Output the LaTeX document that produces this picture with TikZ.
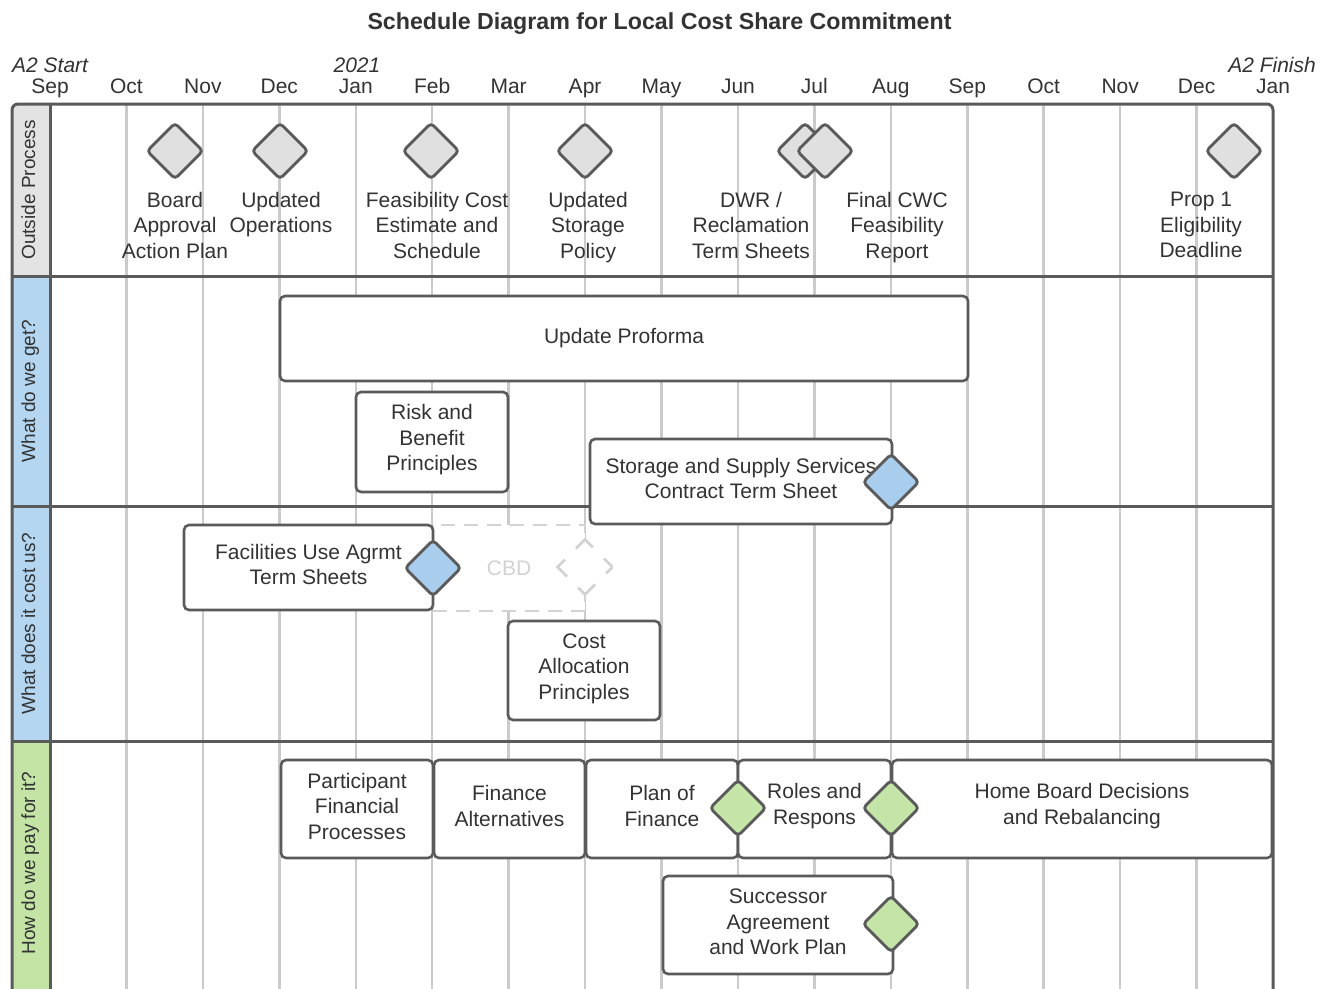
\documentclass[tikz,border=0pt]{standalone}
\usepackage{fontspec}
\setmainfont{Liberation Sans}
\usetikzlibrary{shapes.geometric}
\definecolor{edge}{HTML}{5A5A5A}
\definecolor{txt}{HTML}{333333}
\definecolor{gridc}{HTML}{CBCBCB}
\definecolor{greyfill}{HTML}{E3E3E3}
\definecolor{bluelane}{HTML}{B4D6F1}
\definecolor{greenlane}{HTML}{C4E4A6}
\definecolor{bluedia}{HTML}{A9CDEC}
\definecolor{greendia}{HTML}{C5E5A8}
\definecolor{greydia}{HTML}{E0E0E0}
\definecolor{ghost}{HTML}{D2D2D2}
\tikzset{
  lbl/.style={font=\fontsize{21}{25.5}\selectfont, text=txt, align=center, inner sep=0pt},
  boxtext/.style={lbl, yshift=2pt},
  hdr/.style={font=\fontsize{21}{25}\selectfont, text=txt, inner sep=0pt},
  hdrit/.style={font=\fontsize{21}{25}\selectfont\itshape, text=txt, inner sep=0pt},
  lanelbl/.style={font=\fontsize{19}{23}\selectfont, text=txt, inner sep=0pt, rotate=90, anchor=base},
  box/.style={draw=edge, line width=2.6pt, rounded corners=5pt, fill=white, inner sep=0pt},
  ghostbox/.style={lbl, draw=ghost, line width=2.6pt, dash pattern=on 14pt off 9pt, fill=white, text=ghost},
  milestone/.style={diamond, draw=edge, line width=2.8pt, rounded corners=4pt, minimum width=57pt, minimum height=57pt, inner sep=0pt},
  ghostdia/.style={diamond, draw=ghost, line width=2.6pt, dash pattern=on 24pt off 15.6pt, dash phase=12pt, minimum width=56pt, minimum height=56pt, inner sep=0pt, fill=white},
  frame/.style={draw=edge, line width=3pt},
  gridline/.style={draw=gridc, line width=2.5pt},
}
\begin{document}
\begin{tikzpicture}[x=1pt,y=-1pt]
\useasboundingbox (0,0) rectangle (1332,988);
\fill[white] (0,0) rectangle (1332,988);
\clip (0,0) rectangle (1332,988);

% title
\node[font=\fontsize{23.2}{27}\selectfont\bfseries, text=txt, inner sep=0pt, anchor=base] (title) at (659.5,29.5) {Schedule Diagram for Local Cost Share Commitment};

% header
\node[hdrit, anchor=base west] (a2start) at (12,72.5) {A2 Start};
\node[hdrit, anchor=base] (y2021) at (357,72.5) {2021};
\node[hdrit, anchor=base east] (a2finish) at (1316,72.5) {A2 Finish};
\foreach \m [count=\i from 0] in {Sep,Oct,Nov,Dec,Jan,Feb,Mar,Apr,May,Jun,Jul,Aug,Sep,Oct,Nov,Dec,Jan}
  \node[hdr, anchor=base] (m\i) at ({50+76.44*\i},93) {\m};

% lane label fills
\begin{scope}
  \clip[rounded corners=6pt] (12,104) rectangle (1273,1040);
  \fill[greyfill] (12,104) rectangle (50,276);
  \fill[bluelane] (12,276) rectangle (50,741);
  \fill[greenlane] (12,741) rectangle (50,1040);
\end{scope}

% grid
\foreach \i in {1,...,15}
  \draw[gridline] ({50+76.44*\i},104) -- ++(0,930);

% frame
\draw[frame, rounded corners=6pt] (12,1040) -- (12,104) -- (1273,104) -- (1273,1040);
\draw[frame] (50,104) -- (50,1040);
\draw[frame] (12,276) -- (1273,276);
\draw[frame] (12,506) -- (1273,506);
\draw[frame] (12,741) -- (1273,741);

% lane labels
\node[lanelbl] (l1) at (35,190) {Outside Process};
\node[lanelbl] (l2) at (35,391) {What do we get?};
\node[lanelbl] (l3) at (35,623.5) {What does it cost us?};
\node[lanelbl] (l4) at (35,863) {How do we pay for it?};

% outside process milestones
\node[milestone, fill=greydia] (d1) at (175,151) {};
\node[milestone, fill=greydia] (d2) at (280,151) {};
\node[milestone, fill=greydia] (d3) at (431,151) {};
\node[milestone, fill=greydia] (d4) at (585,151) {};
\node[milestone, fill=greydia] (d5) at (805,151) {};
\node[milestone, fill=greydia] (d6) at (825,151) {};
\node[milestone, fill=greydia] (d7) at (1234,151) {};

\node[lbl, anchor=north] (t1) at (175,192) {Board\\Approval\\Action Plan};
\node[lbl, anchor=north] (t2) at (281,192) {Updated\\Operations};
\node[lbl, anchor=north] (t3) at (437,192) {Feasibility Cost\\Estimate and\\Schedule};
\node[lbl, anchor=north] (t4) at (588,192) {Updated\\Storage\\Policy};
\node[lbl, anchor=north] (t5) at (751,192) {DWR /\\Reclamation\\Term Sheets};
\node[lbl, anchor=north] (t6) at (897,192) {Final CWC\\Feasibility\\Report};
\node[lbl, anchor=north] (t7) at (1201,192) {Prop 1\\Eligibility\\Deadline};

% what do we get
\node[box, minimum width=688pt, minimum height=85pt, label={[lbl]center:{Update Proforma}}] (proforma) at (624,338.5) {};
\node[box, minimum width=152pt, minimum height=100pt, label={[boxtext]center:{Risk and\\Benefit\\Principles}}] (risk) at (432,442) {};
\node[box, minimum width=302pt, minimum height=85pt, label={[boxtext, yshift=1pt]center:{Storage and Supply Services\\Contract Term Sheet}}] (storage) at (741,481.5) {};
\node[milestone, fill=bluedia] (ds) at (891,482) {};

% what does it cost
\node[ghostbox, minimum width=152pt, minimum height=86pt] (cbd) at (509,568) {CBD};
\node[ghostdia] (dcbd) at (585,567) {};
\node[box, minimum width=249pt, minimum height=85pt, label={[boxtext, yshift=1pt]center:{Facilities Use Agrmt\\Term Sheets}}] (facil) at (308.5,567.5) {};
\node[milestone, fill=bluedia] (df) at (433,568) {};
\node[box, minimum width=152pt, minimum height=99pt, label={[boxtext]center:{Cost\\Allocation\\Principles}}] (costalloc) at (584,670.5) {};

% how do we pay
\node[box, minimum width=152pt, minimum height=98pt, label={[boxtext, yshift=1pt]center:{Participant\\Financial\\Processes}}] (partic) at (357,809) {};
\node[box, minimum width=151pt, minimum height=98pt, label={[boxtext, yshift=1pt]center:{Finance\\Alternatives}}] (finalt) at (509.5,809) {};
\node[box, minimum width=152pt, minimum height=98pt, label={[boxtext, yshift=1pt]center:{Plan of\\Finance}}] (planfin) at (662,809) {};
\node[box, minimum width=153pt, minimum height=98pt, label={[boxtext, yshift=1pt]center:{Roles and\\Respons}}] (roles) at (814.5,809) {};
\node[box, minimum width=380pt, minimum height=98pt, label={[boxtext, yshift=1pt]center:{Home Board Decisions\\and Rebalancing}}] (home) at (1082,809) {};
\node[milestone, fill=greendia] (dp) at (738,808) {};
\node[milestone, fill=greendia] (dr) at (891,808) {};
\node[box, minimum width=230pt, minimum height=98pt, label={[boxtext, yshift=1pt]center:{Successor\\Agreement\\and Work Plan}}] (succ) at (778,925) {};
\node[milestone, fill=greendia] (dsu) at (891,924) {};
\end{tikzpicture}
\end{document}
